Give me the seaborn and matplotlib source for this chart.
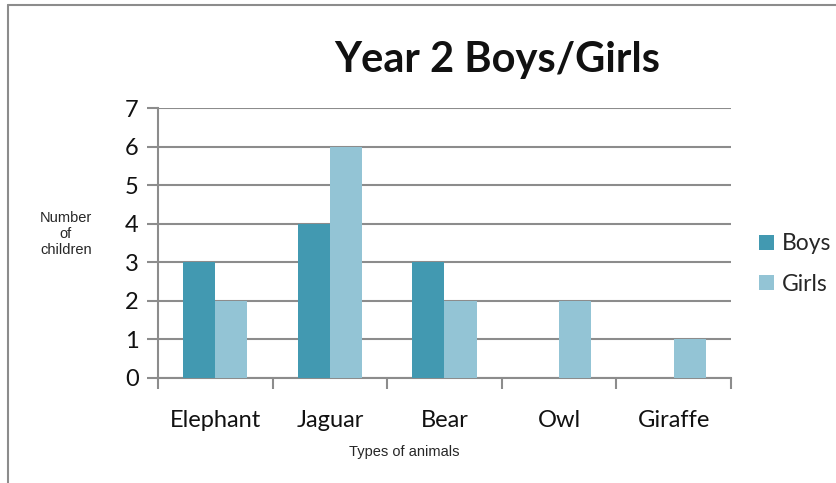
import matplotlib
matplotlib.use("Agg")
import matplotlib.pyplot as plt
from matplotlib.lines import Line2D
from matplotlib.patches import Patch
import seaborn as sns
import pandas as pd

animals = ["Elephant", "Jaguar", "Bear", "Owl", "Giraffe"]
boys = [3, 4, 3, 0, 0]
girls = [2, 6, 2, 2, 1]
series = ["Boys", "Girls"]
colors = ["#4299B1", "#93C4D5"]

df = pd.DataFrame({
    "animal": animals * 2,
    "count": boys + girls,
    "group": ["Boys"] * len(animals) + ["Girls"] * len(animals),
})

sns.set_theme(style="white")
plt.rcParams["font.family"] = ["Lato", "DejaVu Sans"]

W, H = 837, 483
fig = plt.figure(figsize=(W / 100, H / 100), dpi=100)
ax = fig.add_axes([158 / W, 1 - 378 / H, (731 - 158) / W, (378 - 108) / H])

sns.barplot(data=df, x="animal", y="count", hue="group", order=animals,
            hue_order=series, palette=colors, width=0.56, saturation=1,
            ax=ax, legend=False, linewidth=0, zorder=3)

grid_c = "#8C8C8C"
ax.set_ylim(0, 7)
ax.set_xlim(-0.5, len(animals) - 0.5)
ax.set_yticks(range(0, 8))
ax.yaxis.grid(True, color=grid_c, linewidth=1.5, zorder=0)
ax.set_axisbelow(True)
for s in ["top", "right"]:
    ax.spines[s].set_visible(False)
for s in ["left", "bottom"]:
    ax.spines[s].set_color(grid_c)
    ax.spines[s].set_linewidth(1.5)

# category ticks sit at the group boundaries
ax.set_xticks([i - 0.5 for i in range(len(animals) + 1)], minor=False)
ax.set_xticklabels([])
ax.set_xticks(range(len(animals)), minor=True)
ax.set_xticklabels(animals, minor=True, fontsize=17, color="#111111")
ax.tick_params(axis="x", which="major", direction="out", length=8, width=1.5,
               color=grid_c, bottom=True)
ax.tick_params(axis="x", which="minor", length=0, pad=23)
ax.tick_params(axis="y", direction="out", length=8, width=1.5, color=grid_c,
               left=True, labelsize=17, pad=6, labelcolor="#111111")

ax.set_xlabel("")
ax.set_ylabel("")
fig.text(66 / W, 1 - 234 / H, "Number\nof\nchildren", ha="center", va="center",
         fontsize=10.5, family=["Liberation Sans"], linespacing=1.15)
fig.text(404 / W, 1 - 452 / H, "Types of animals", ha="center", va="center",
         fontsize=10.5, family=["Liberation Sans"])

fig.text(497 / W, 1 - 60 / H, "Year 2 Boys/Girls", ha="center", va="center",
         fontsize=30, fontweight="bold", color="#111111")

handles = [Patch(facecolor=c, edgecolor="none", label=l) for c, l in zip(colors, series)]
fig.legend(handles=handles, loc="center left", bbox_to_anchor=(750 / W, 1 - 264 / H),
           frameon=False, fontsize=16.5, handlelength=0.65, handleheight=0.65,
           handletextpad=0.35, labelspacing=0.85, borderaxespad=0)

# outer chart frame
fig.add_artist(Line2D([8 / W, 8 / W], [0, 1 - 5 / H], color="#8C8C8C",
                      linewidth=1.5, transform=fig.transFigure))
fig.add_artist(Line2D([8 / W, 1], [1 - 5 / H, 1 - 5 / H], color="#8C8C8C",
                      linewidth=1.5, transform=fig.transFigure))

fig.savefig("out.png", dpi=100)
